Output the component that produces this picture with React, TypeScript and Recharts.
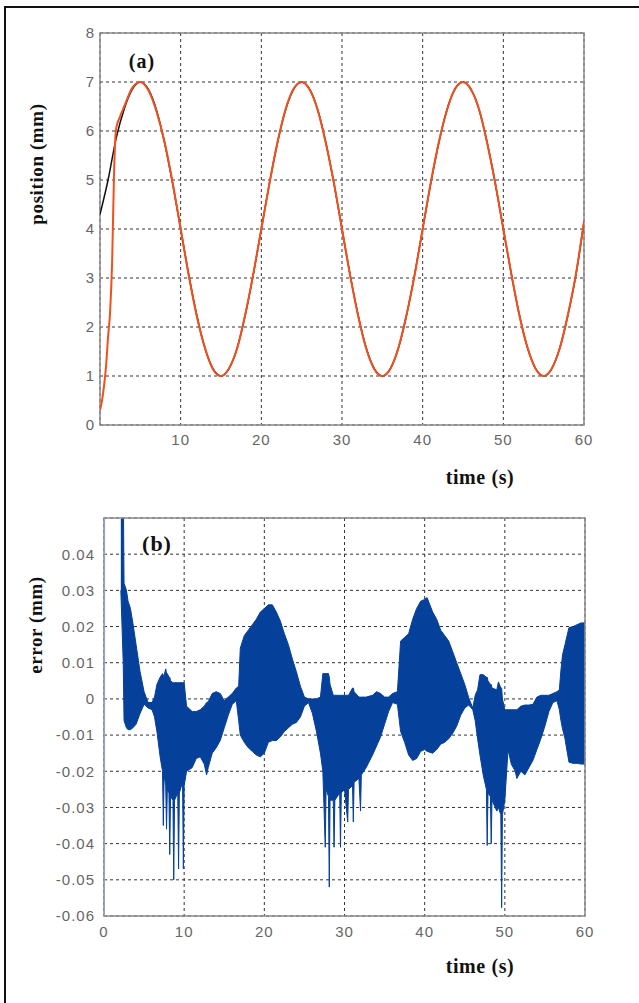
import { ComposedChart, Line, Area, XAxis, YAxis, CartesianGrid, ReferenceArea } from 'recharts'

// (a) position: reference trajectory and measured response
const REF_T = [0, 1, 2, 3, 4, 5, 6, 7, 8, 9, 10, 11, 12, 13, 14, 15, 16, 17, 18, 19, 20, 21, 22, 23, 24, 25, 26, 27, 28, 29, 30, 31, 32, 33, 34, 35, 36, 37, 38, 39, 40, 41, 42, 43, 44, 45, 46, 47, 48, 49, 50, 51, 52, 53, 54, 55, 56, 57, 58, 59, 60]
const REF_V = [4.3, 5.0, 5.85, 6.45, 6.85, 7.0, 6.85, 6.43, 5.76, 4.93, 4.0, 3.07, 2.24, 1.57, 1.15, 1.0, 1.15, 1.57, 2.24, 3.07, 4.0, 4.93, 5.76, 6.43, 6.85, 7.0, 6.85, 6.43, 5.76, 4.93, 4.0, 3.07, 2.24, 1.57, 1.15, 1.0, 1.15, 1.57, 2.24, 3.07, 4.0, 4.93, 5.76, 6.43, 6.85, 7.0, 6.85, 6.43, 5.76, 4.93, 4.0, 3.07, 2.24, 1.57, 1.15, 1.0, 1.15, 1.57, 2.24, 3.07, 4.15]

const ACT_T = [0, 0.25, 0.5, 0.75, 1, 1.25, 1.5, 1.75, 2, 2.5, 3, 4, 5, 6, 7, 8, 9, 10, 11, 12, 13, 14, 15, 16, 17, 18, 19, 20, 21, 22, 23, 24, 25, 26, 27, 28, 29, 30, 31, 32, 33, 34, 35, 36, 37, 38, 39, 40, 41, 42, 43, 44, 45, 46, 47, 48, 49, 50, 51, 52, 53, 54, 55, 56, 57, 58, 59, 60]
const ACT_V = [0.3, 0.5, 0.8, 1.2, 1.8, 2.3, 3.3, 5.2, 6.05, 6.3, 6.5, 6.88, 7.0, 6.83, 6.4, 5.78, 4.95, 4.0, 3.05, 2.22, 1.58, 1.14, 1.0, 1.16, 1.56, 2.25, 3.08, 4.0, 4.92, 5.77, 6.44, 6.86, 7.0, 6.84, 6.42, 5.75, 4.94, 4.0, 3.06, 2.23, 1.56, 1.14, 1.0, 1.15, 1.58, 2.25, 3.06, 4.0, 4.94, 5.77, 6.42, 6.86, 7.0, 6.84, 6.44, 5.75, 4.93, 4.0, 3.08, 2.23, 1.58, 1.15, 1.0, 1.15, 1.57, 2.25, 3.08, 4.15]

// (b) tracking error: upper / lower envelope of the oscillating trace
const ERR_T = [2.1, 2.4, 2.5, 2.8, 3.0, 3.3, 3.6, 4.0, 4.5, 5.0, 5.5, 6.0, 6.3, 6.6, 7.0, 7.3, 7.4, 7.5, 7.7, 7.8, 7.9, 8.1, 8.2, 8.3, 8.6, 8.7, 8.8, 9.2, 9.3, 9.4, 9.8, 9.9, 10.0, 10.3, 11.0, 11.5, 12.0, 12.5, 12.8, 13.0, 13.5, 14.0, 14.5, 15.0, 15.5, 16.0, 16.5, 16.8, 17.0, 17.5, 18.0, 18.5, 19.0, 19.5, 20.0, 20.5, 21.0, 21.5, 22.0, 22.5, 23.0, 23.5, 24.0, 24.5, 25.0, 25.5, 26.0, 26.5, 27.0, 27.3, 27.6, 27.7, 28.0, 28.1, 28.2, 28.6, 28.7, 28.8, 29.4, 29.5, 29.6, 30.0, 30.4, 30.5, 31.0, 31.1, 31.2, 31.8, 32.0, 32.1, 32.7, 33.5, 34.0, 34.5, 35.0, 35.5, 36.0, 36.6, 37.0, 37.5, 38.0, 38.5, 39.0, 39.5, 40.0, 40.3, 41.0, 41.5, 42.0, 42.5, 43.0, 43.5, 44.0, 44.5, 45.0, 45.5, 46.0, 46.3, 46.6, 46.9, 47.3, 47.7, 47.8, 47.9, 48.2, 48.3, 48.4, 49.0, 49.2, 49.5, 49.6, 49.7, 50.0, 50.4, 50.8, 51.3, 51.5, 52.0, 52.5, 53.0, 53.5, 54.0, 54.5, 55.0, 55.5, 56.0, 56.5, 56.8, 57.0, 57.2, 57.5, 58.0, 58.5, 59.0, 59.5, 60.0]
const ERR_HI = [0.06, 0.06, 0.032, 0.03, 0.027, 0.025, 0.021, 0.015, 0.0075, 0.002, -0.001, -0.001, 0.0005, 0.004, 0.006, 0.007, 0.0065, 0.0065, 0.0083, 0.007, 0.007, 0.006, 0.006, 0.005, 0.0045, 0.0045, 0.0045, 0.0045, 0.0045, 0.0045, 0.0045, 0.0045, 0.0045, -0.002, -0.0035, -0.0035, -0.003, -0.002, -0.001, -0.0008, 0.0015, 0.002, 0.0015, -0.0005, 0.0005, 0.0015, 0.003, 0.0035, 0.014, 0.0175, 0.019, 0.0205, 0.022, 0.024, 0.025, 0.026, 0.026, 0.024, 0.0215, 0.018, 0.015, 0.011, 0.0075, 0.0035, 0.0005, 0, 0, 0, 0.0005, 0.007, 0.007, 0.007, 0.007, 0.006, 0.004, 0.001, 0.001, 0.001, 0.001, 0.001, 0.001, 0.001, 0.001, 0.001, 0.003, 0.003, 0.002, 0.0005, 0.0005, 0.0005, 0.0005, 0.001, 0.002, 0.0015, 0.0005, 0.0005, 0.0015, 0.002, 0.016, 0.017, 0.018, 0.022, 0.025, 0.027, 0.0275, 0.028, 0.024, 0.022, 0.019, 0.0175, 0.016, 0.013, 0.01, 0.007, 0.004, 0.0003, -0.0025, 0.001, 0.0025, 0.0067, 0.0067, 0.006, 0.006, 0.005, 0.004, 0.004, 0.003, 0.0025, 0.0047, 0.003, 0.003, 0, -0.003, -0.003, -0.003, -0.003, -0.003, -0.002, -0.0017, -0.0017, -0.0015, 0.0005, 0.001, 0.001, 0.001, 0.0015, 0.002, 0.0025, 0.008, 0.0122, 0.015, 0.0197, 0.02, 0.0205, 0.021, 0.021]
const ERR_LO = [0.03, 0.01, -0.006, -0.008, -0.0085, -0.0085, -0.008, -0.007, -0.004, -0.0015, -0.0025, -0.003, -0.005, -0.009, -0.016, -0.02, -0.035, -0.021, -0.024, -0.036, -0.025, -0.026, -0.043, -0.027, -0.028, -0.05, -0.028, -0.026, -0.047, -0.026, -0.023, -0.047, -0.024, -0.02, -0.019, -0.0165, -0.016, -0.018, -0.021, -0.019, -0.015, -0.0135, -0.0115, -0.008, -0.0045, -0.0015, -0.0005, -0.006, -0.01, -0.012, -0.0135, -0.0145, -0.0155, -0.016, -0.015, -0.012, -0.0115, -0.0115, -0.0105, -0.009, -0.008, -0.007, -0.0065, -0.005, -0.002, -0.001, -0.004, -0.009, -0.015, -0.02, -0.041, -0.025, -0.027, -0.052, -0.028, -0.028, -0.041, -0.028, -0.026, -0.041, -0.026, -0.025, -0.034, -0.025, -0.024, -0.034, -0.023, -0.022, -0.031, -0.021, -0.019, -0.0155, -0.013, -0.0105, -0.007, -0.0035, -0.001, -0.0015, -0.009, -0.012, -0.0155, -0.017, -0.0165, -0.0145, -0.014, -0.0145, -0.015, -0.014, -0.0125, -0.012, -0.011, -0.0095, -0.0075, -0.0045, -0.0025, -0.0017, -0.003, -0.006, -0.011, -0.0155, -0.021, -0.025, -0.0405, -0.026, -0.027, -0.04, -0.028, -0.031, -0.03, -0.032, -0.0577, -0.032, -0.028, -0.014, -0.018, -0.02, -0.022, -0.02, -0.021, -0.019, -0.017, -0.014, -0.011, -0.0075, -0.0035, -0.001, -0.0005, -0.003, -0.006, -0.0083, -0.011, -0.0175, -0.0178, -0.0178, -0.018, -0.018]

// start-up transient at t = 0 (runs off the scale)
const START_T = [0, 0.02]
const START_V = [-0.08, 0.08]

const POS_TICKS = [0, 1, 2, 3, 4, 5, 6, 7, 8]
const ERR_TICKS = [-0.06, -0.05, -0.04, -0.03, -0.02, -0.01, 0, 0.01, 0.02, 0.03, 0.04]
const TIME_TICKS_A = [10, 20, 30, 40, 50, 60]
const TIME_TICKS_B = [0, 10, 20, 30, 40, 50, 60]

const refRows = REF_T.map((t, i) => ({ t, v: REF_V[i] }))
const actRows = ACT_T.map((t, i) => ({ t, v: ACT_V[i] }))
const errRows = ERR_T.map((t, i) => ({ t, band: [ERR_LO[i], ERR_HI[i]] }))
const startRows = START_T.map((t, i) => ({ t, v: START_V[i] }))

const tickStyle = { fill: '#666', fontSize: 15, fontFamily: '"Liberation Sans", Arial, sans-serif', letterSpacing: 1 }
const serif = '"Liberation Serif", "Times New Roman", serif'

const labelStyle: React.CSSProperties = {
  position: 'absolute',
  fontFamily: serif,
  fontWeight: 'bold',
  fontSize: 19,
  letterSpacing: 0.6,
  color: '#111',
  whiteSpace: 'nowrap',
  transform: 'translate(-50%, -50%)',
}

const fmtErr = (v: number) => (Math.abs(v) < 1e-9 ? '0' : v.toFixed(2))

export default function App() {
  return (
    <div style={{ position: 'absolute', left: 0, top: 0, width: 639, height: 1003, background: '#fff', overflow: 'hidden' }}>
      <div style={{ position: 'absolute', left: 4, top: 6, width: 700, height: 1100, border: '2px solid #111', boxSizing: 'border-box' }} />

      <div style={{ position: 'absolute', left: 0, top: 0 }}>
        <ComposedChart width={639} height={480} margin={{ top: 33, right: 55, left: 40, bottom: 25 }}>
          <CartesianGrid stroke="#333" strokeDasharray="3 3" />
          <XAxis type="number" dataKey="t" domain={[0, 60]} ticks={TIME_TICKS_A} axisLine={false} tickLine={false} tickSize={0} tickMargin={9} height={30} tick={tickStyle} allowDataOverflow />
          <YAxis type="number" domain={[0, 8]} ticks={POS_TICKS} axisLine={false} tickLine={false} tickSize={0} tickMargin={5} width={60} tick={tickStyle} allowDataOverflow />
          <ReferenceArea x1={0} x2={60} y1={0} y2={8} fill="none" stroke="#8a8a8a" strokeWidth={1.5} />
          <Line data={refRows} dataKey="v" type="monotone" stroke="#111" strokeWidth={1.5} dot={false} isAnimationActive={false} />
          <Line data={actRows} dataKey="v" type="monotone" stroke="#f0501e" strokeWidth={2} dot={false} isAnimationActive={false} />
        </ComposedChart>
      </div>

      <div style={{ position: 'absolute', left: 0, top: 480 }}>
        <ComposedChart width={639} height={523} data={errRows} margin={{ top: 38, right: 54, left: 44, bottom: 57 }}>
          <CartesianGrid stroke="#333" strokeDasharray="3 3" />
          <XAxis type="number" dataKey="t" domain={[0, 60]} ticks={TIME_TICKS_B} axisLine={false} tickLine={false} tickSize={0} tickMargin={10} height={30} tick={tickStyle} allowDataOverflow />
          <YAxis type="number" domain={[-0.06, 0.05]} ticks={ERR_TICKS} tickFormatter={fmtErr} axisLine={false} tickLine={false} tickSize={0} tickMargin={9} width={60} tick={tickStyle} allowDataOverflow />
          <Area dataKey="band" type="linear" stroke="#05409a" strokeWidth={1} fill="#05409a" fillOpacity={1} isAnimationActive={false} />
          <Line data={startRows} dataKey="v" type="linear" stroke="#8ea3d6" strokeWidth={2} dot={false} isAnimationActive={false} />
          <ReferenceArea x1={0} x2={60} y1={-0.06} y2={0.05} fill="none" stroke="#8a8a8a" strokeWidth={1.5} />
        </ComposedChart>
      </div>

      <div style={{ ...labelStyle, left: 142, top: 61, fontSize: 20, letterSpacing: 1 }}>(a)</div>
      <div style={{ ...labelStyle, left: 157, top: 544, fontSize: 22, letterSpacing: 1 }}>(b)</div>
      <div style={{ ...labelStyle, left: 37, top: 164, transform: 'translate(-50%, -50%) rotate(-90deg)' }}>position (mm)</div>
      <div style={{ ...labelStyle, left: 36, top: 625, transform: 'translate(-50%, -50%) rotate(-90deg)' }}>error (mm)</div>
      <div style={{ ...labelStyle, left: 480, top: 477, fontSize: 20 }}>time (s)</div>
      <div style={{ ...labelStyle, left: 480, top: 966, fontSize: 20 }}>time (s)</div>
    </div>
  )
}
